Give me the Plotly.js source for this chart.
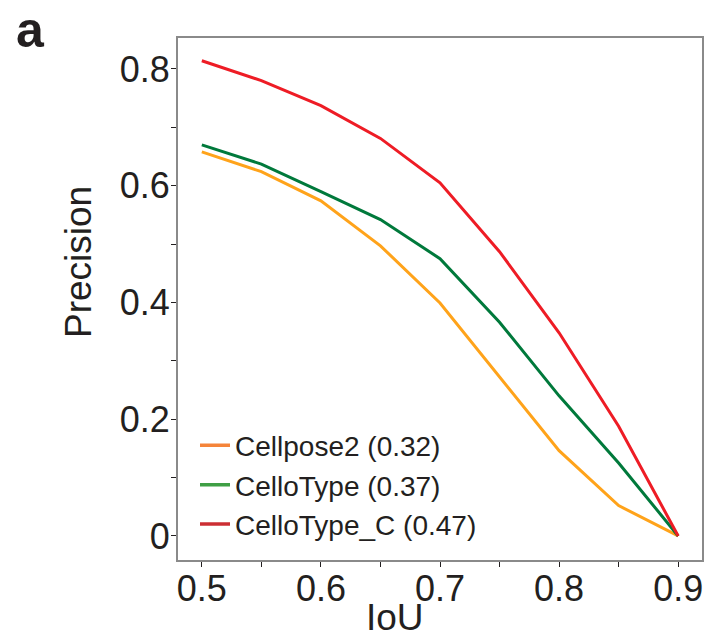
<!DOCTYPE html>
<html>
<head>
<meta charset="utf-8">
<script src="https://cdn.plot.ly/plotly-3.0.1.min.js"></script>
<style>html,body{margin:0;padding:0;background:#fff;}#chart{width:712px;height:638px;}</style>
</head>
<body>
<div id="chart"></div>
<script>
const iou = [0.5, 0.55, 0.6, 0.65, 0.7, 0.75, 0.8, 0.85, 0.9];
const cellpose2 = [0.658, 0.624, 0.574, 0.497, 0.399, 0.272, 0.146, 0.052, 0.0];
const cellotype = [0.670, 0.637, 0.590, 0.542, 0.475, 0.366, 0.240, 0.125, 0.0];
const cellotypeC = [0.814, 0.780, 0.737, 0.681, 0.605, 0.487, 0.348, 0.188, 0.0];
const seriesNames = ["Cellpose2 (0.32)", "CelloType (0.37)", "CelloType_C (0.47)"];
const lineColors = ["#ffa31a", "#00793b", "#ee1c25"];
const legendColors = ["#f5843a", "#3f9f45", "#cc2e33"];
const xTitle = "IoU";
const yTitle = "Precision";
const panelLabel = "a";

const ys = [cellpose2, cellotype, cellotypeC];
const traces = [];
ys.forEach((y, i) => {
  traces.push({x: iou, y: y, type: "scatter", mode: "lines", name: seriesNames[i],
    showlegend: false, line: {color: lineColors[i], width: 3}});
});
ys.forEach((y, i) => {
  traces.push({x: [null], y: [null], type: "scatter", mode: "lines", name: seriesNames[i],
    showlegend: true, line: {color: legendColors[i], width: 3.5}});
});

const font = "Liberation Sans, Arial, sans-serif";
const layout = {
  width: 712, height: 638,
  margin: {l: 178, r: 10, t: 38, b: 78},
  paper_bgcolor: "#fff", plot_bgcolor: "#fff",
  font: {family: font, color: "#231f20"},
  showlegend: true,
  legend: {
    x: 17 / 524, y: 0.02, xanchor: "left", yanchor: "bottom",
    bgcolor: "rgba(0,0,0,0)", borderwidth: 0,
    font: {family: "Liberation Sans Narrow, Arial Narrow, Liberation Sans, sans-serif", size: 28, color: "#231f20"},
    tracegroupgap: 0
  },
  xaxis: {
    range: [0.48, 0.92], dtick: 0.1, tick0: 0.5,
    showgrid: false, zeroline: false,
    showline: true, linecolor: "#8a8a8a", linewidth: 2, mirror: true,
    ticks: "outside", ticklen: 5, tickwidth: 1, tickcolor: "#231f20",
    ticklabelstandoff: -9,
    minor: {dtick: 0.05, tick0: 0.5, ticks: "outside", ticklen: 5, tickwidth: 1, tickcolor: "#231f20", showgrid: false},
    tickfont: {size: 36, family: font, color: "#231f20"}
  },
  yaxis: {
    range: [-0.0412, 0.853], dtick: 0.2, tick0: 0,
    showgrid: false, zeroline: false,
    showline: true, linecolor: "#8a8a8a", linewidth: 2, mirror: true,
    ticks: "outside", ticklen: 5, tickwidth: 1, tickcolor: "#231f20",
    ticklabelstandoff: -6,
    minor: {dtick: 0.1, tick0: 0, ticks: "outside", ticklen: 5, tickwidth: 1, tickcolor: "#231f20", showgrid: false},
    tickfont: {size: 36, family: font, color: "#231f20"}
  },
  annotations: [
    {text: xTitle, xref: "paper", yref: "paper", x: (395 - 178) / 524, y: -0.067,
     xanchor: "center", yanchor: "top", showarrow: false,
     font: {size: 37, family: font, color: "#231f20"}},
    {text: yTitle, xref: "paper", yref: "paper", x: (78 - 178) / 524, y: (560 - 262) / 522,
     xanchor: "center", yanchor: "middle", textangle: -90, showarrow: false,
     font: {size: 37, family: font, color: "#231f20"}},
    {text: "<b>" + panelLabel + "</b>", xref: "paper", yref: "paper", x: (14 - 178) / 524, y: 560 / 522,
     xanchor: "left", yanchor: "top", showarrow: false,
     font: {size: 50, family: font, color: "#231f20"}}
  ]
};
Plotly.newPlot("chart", traces, layout, {displayModeBar: false, staticPlot: true});
</script>
</body>
</html>
